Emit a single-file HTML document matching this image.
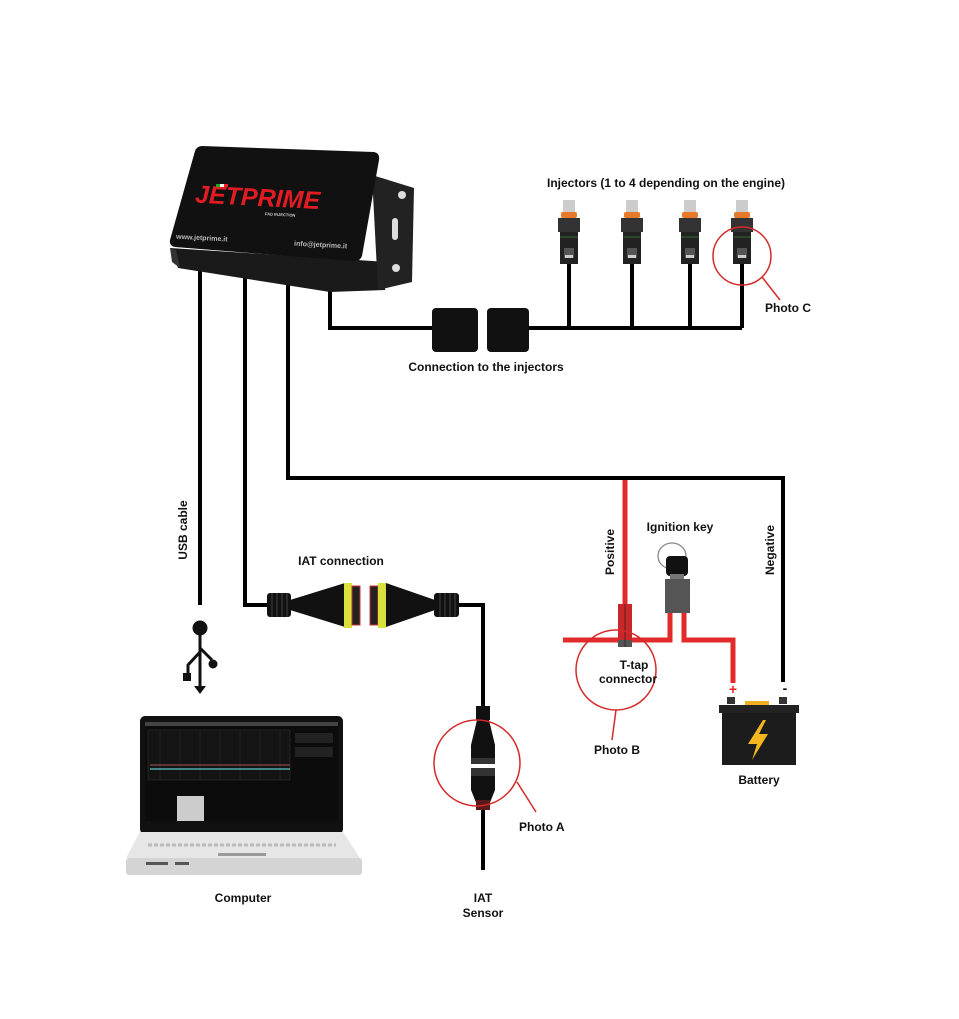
<!DOCTYPE html>
<html><head><meta charset="utf-8"><style>
html,body{margin:0;padding:0;background:#fff}
svg{display:block}
text{font-family:"Liberation Sans",sans-serif;font-weight:bold;font-size:12px;fill:#111}
</style></head><body>
<svg width="959" height="1019" viewBox="0 0 959 1019" xmlns="http://www.w3.org/2000/svg">
<defs>
<g id="inj">
<rect x="-6" y="200" width="12" height="13" fill="#ccc"/>
<rect x="-8" y="212" width="16" height="6" rx="2" fill="#e8782a"/>
<rect x="-11" y="218" width="22" height="14" fill="#333"/>
<rect x="-9" y="232" width="18" height="32" fill="#222"/>
<line x1="-9" y1="237" x2="9" y2="237" stroke="#4a4" stroke-width="0.6"/>
<rect x="-5" y="248" width="10" height="10" fill="#555"/>
<rect x="-4" y="255" width="8" height="3" fill="#ccc"/>
</g>
</defs>
<!-- wires black -->
<g stroke="#000" stroke-width="4" fill="none">
<path d="M200 262V605"/>
<path d="M245 266V605H270"/>
<path d="M288 266V478H783V682"/>
<path d="M330 285V328H432"/>
<path d="M528 328H742"/>
<path d="M569 262V328M632 262V328M690 262V328M742 262V328"/>
<path d="M458 605H483V712M483 800V870"/>
</g>
<!-- ECU -->
<polygon points="170,248 178,268 330,292 385,290 388,262" fill="#1a1a1a"/>
<polygon points="372,175 414,188 412,282 378,290" fill="#222"/>
<circle cx="402" cy="195" r="4" fill="#ddd"/><circle cx="396" cy="268" r="4" fill="#ddd"/>
<rect x="392" y="218" width="6" height="22" rx="3" fill="#ddd"/>
<polygon points="170,248 172,262 180,268 176,250" fill="#333"/>
<path d="M202 146 L374 152 Q380 153 379 160 L362 256 Q360 262 352 261 L175 247 Q169 246 170 240 L195 151 Q197 146 202 146Z" fill="#111"/>
<text x="195" y="207" style="font-size:25px;font-style:italic;fill:#e21c23;font-weight:900" transform="rotate(3 280 200)">JETPRIME</text>
<rect x="216" y="184" width="4" height="3" fill="#2a2"/><rect x="220" y="184" width="4" height="3" fill="#fff"/><rect x="224" y="184" width="4" height="3" fill="#e22"/>
<text x="265" y="216" style="font-size:4px;fill:#ccc" transform="rotate(3 280 214)">FAD INJECTION</text>
<text x="176" y="240" style="font-size:7px;fill:#bbb" transform="rotate(3 200 240)">www.jetprime.it</text>
<text x="294" y="247" style="font-size:7px;fill:#bbb" transform="rotate(3 320 247)">info@jetprime.it</text>
<!-- injector connectors -->
<rect x="432" y="308" width="46" height="44" rx="4" fill="#111"/>
<rect x="487" y="308" width="42" height="44" rx="4" fill="#111"/>
<text x="486" y="371" text-anchor="middle">Connection to the injectors</text>
<text x="666" y="187" text-anchor="middle">Injectors (1 to 4 depending on the engine)</text>
<use href="#inj" transform="translate(569 0)"/>
<use href="#inj" transform="translate(632 0)"/>
<use href="#inj" transform="translate(690 0)"/>
<use href="#inj" transform="translate(742 0)"/>
<circle cx="742" cy="256" r="29" fill="none" stroke="#d42a2a" stroke-width="1.5"/>
<line x1="762" y1="277" x2="780" y2="300" stroke="#d42a2a" stroke-width="1.5"/>
<text x="765" y="312">Photo C</text>
<!-- USB -->
<text x="187" y="530" text-anchor="middle" transform="rotate(-90 187 530)">USB cable</text>
<g fill="#111" stroke="#111">
<circle cx="200" cy="628" r="7"/>
<path d="M200 630V690M200 652L188 665V676M200 648L212 660" fill="none" stroke-width="3"/>
<rect x="183" y="673" width="8" height="8" stroke="none"/>
<circle cx="213" cy="664" r="4.5" stroke="none"/>
<path d="M194 686H206L200 694Z" stroke="none"/>
</g>
<!-- IAT connection -->
<text x="341" y="565" text-anchor="middle">IAT connection</text>
<g fill="#111">
<rect x="267" y="593" width="24" height="24" rx="3"/>
<path d="M290 600 L345 583 V627 L290 610Z"/>
<rect x="344" y="583" width="8" height="45" fill="#d8e23a"/>
<rect x="352" y="586" width="8" height="39" fill="#222" stroke="#c33" stroke-width="1"/>
<rect x="370" y="586" width="8" height="39" fill="#222" stroke="#c33" stroke-width="1"/>
<rect x="378" y="583" width="8" height="45" fill="#d8e23a"/>
<path d="M386 583 L435 600 V610 L386 627Z"/>
<rect x="434" y="593" width="25" height="24" rx="3"/>
</g>
<g stroke="#444" stroke-width="1"><path d="M272 593V617M277 593V617M282 593V617M287 593V617M440 593V617M445 593V617M450 593V617M455 593V617"/></g>
<!-- IAT sensor connector -->
<g fill="#111">
<rect x="476" y="706" width="14" height="14"/>
<path d="M477 720 L489 720 L495 745 V760 H471 V745Z"/>
<rect x="471" y="758" width="24" height="6" fill="#333"/>
<rect x="471" y="768" width="24" height="8" fill="#333"/>
<path d="M471 776 H495 V790 L489 805 H477 L471 790Z"/>
<rect x="476" y="800" width="14" height="10" fill="#5a1a1a"/>
</g>
<circle cx="477" cy="763" r="43" fill="none" stroke="#d42a2a" stroke-width="1.5"/>
<line x1="517" y1="782" x2="536" y2="812" stroke="#d42a2a" stroke-width="1.5"/>
<text x="519" y="831">Photo A</text>
<text x="483" y="902" text-anchor="middle">IAT</text>
<text x="483" y="917" text-anchor="middle">Sensor</text>
<!-- red wiring -->
<g stroke="#e32a2a" stroke-width="5" fill="none">
<path d="M625 480V640"/>
<path d="M563 640H670V612"/>
<path d="M684 612V640H733V683"/>
</g>
<rect x="618" y="604" width="14" height="38" fill="#c8282a"/>
<rect x="618" y="640" width="14" height="7" fill="#555"/>
<path d="M625 604V647" stroke="#222" stroke-width="0.7"/>
<!-- key -->
<ellipse cx="672" cy="556" rx="14" ry="13" fill="none" stroke="#888" stroke-width="1.3"/>
<rect x="666" y="556" width="22" height="20" rx="4" fill="#111"/>
<rect x="670" y="574" width="14" height="5" fill="#777"/>
<rect x="665" y="579" width="25" height="34" fill="#555"/>
<text x="680" y="531" text-anchor="middle">Ignition key</text>
<text x="614" y="552" text-anchor="middle" transform="rotate(-90 614 552)">Positive</text>
<text x="774" y="550" text-anchor="middle" transform="rotate(-90 774 550)">Negative</text>
<circle cx="616" cy="670" r="40" fill="none" stroke="#d42a2a" stroke-width="1.5"/>
<line x1="616" y1="710" x2="612" y2="740" stroke="#d42a2a" stroke-width="1.5"/>
<text x="634" y="669" text-anchor="middle">T-tap</text>
<text x="628" y="683" text-anchor="middle">connector</text>
<text x="617" y="754" text-anchor="middle">Photo B</text>
<!-- battery -->
<text x="733" y="694" text-anchor="middle" style="fill:#e22;font-size:14px">+</text>
<text x="785" y="693" text-anchor="middle" style="font-size:14px">-</text>
<rect x="727" y="697" width="8" height="7" fill="#333"/><rect x="779" y="697" width="8" height="7" fill="#333"/>
<rect x="745" y="701" width="24" height="5" fill="#f0b020"/>
<rect x="719" y="705" width="80" height="8" fill="#222"/>
<rect x="722" y="713" width="74" height="52" fill="#1c1c1c"/>
<path d="M763 720 L748 744 H757 L752 760 L768 734 H759 L766 720Z" fill="#f5b51e"/>
<text x="759" y="784" text-anchor="middle">Battery</text>
<!-- laptop -->
<rect x="140" y="716" width="203" height="118" rx="5" fill="#111"/>
<rect x="145" y="726" width="193" height="95" fill="#0c0c0c"/>
<rect x="145" y="722" width="193" height="4" fill="#444"/>
<rect x="148" y="730" width="142" height="50" fill="#141414" stroke="#333" stroke-width="0.5"/>
<g stroke="#2a2a2a" stroke-width="0.5"><path d="M160 730V780M180 730V780M200 730V780M220 730V780M240 730V780M260 730V780M280 730V780"/></g>
<path d="M150 765H290" stroke="#a55" stroke-width="1"/>
<path d="M150 769H290" stroke="#5aa" stroke-width="1.5"/>
<rect x="295" y="733" width="38" height="10" fill="#222"/><rect x="295" y="747" width="38" height="10" fill="#222"/>
<rect x="177" y="796" width="27" height="25" fill="#ccc"/>
<circle cx="150" cy="836" r="3.5" fill="#f5e000"/>
<rect x="182" y="836" width="106" height="7" fill="#f2f2f2"/>
<path d="M140 832 H343 L360 858 H126Z" fill="#e6e6e6"/>
<path d="M148 845 H336" stroke="#bbb" stroke-width="3" stroke-dasharray="4 2"/>
<rect x="126" y="858" width="236" height="17" rx="3" fill="#d4d4d4"/>
<rect x="146" y="862" width="22" height="3" fill="#555"/><rect x="175" y="862" width="14" height="3" fill="#555"/>
<rect x="218" y="853" width="48" height="3" fill="#999"/>
<text x="243" y="902" text-anchor="middle">Computer</text>
</svg>
</body></html>
